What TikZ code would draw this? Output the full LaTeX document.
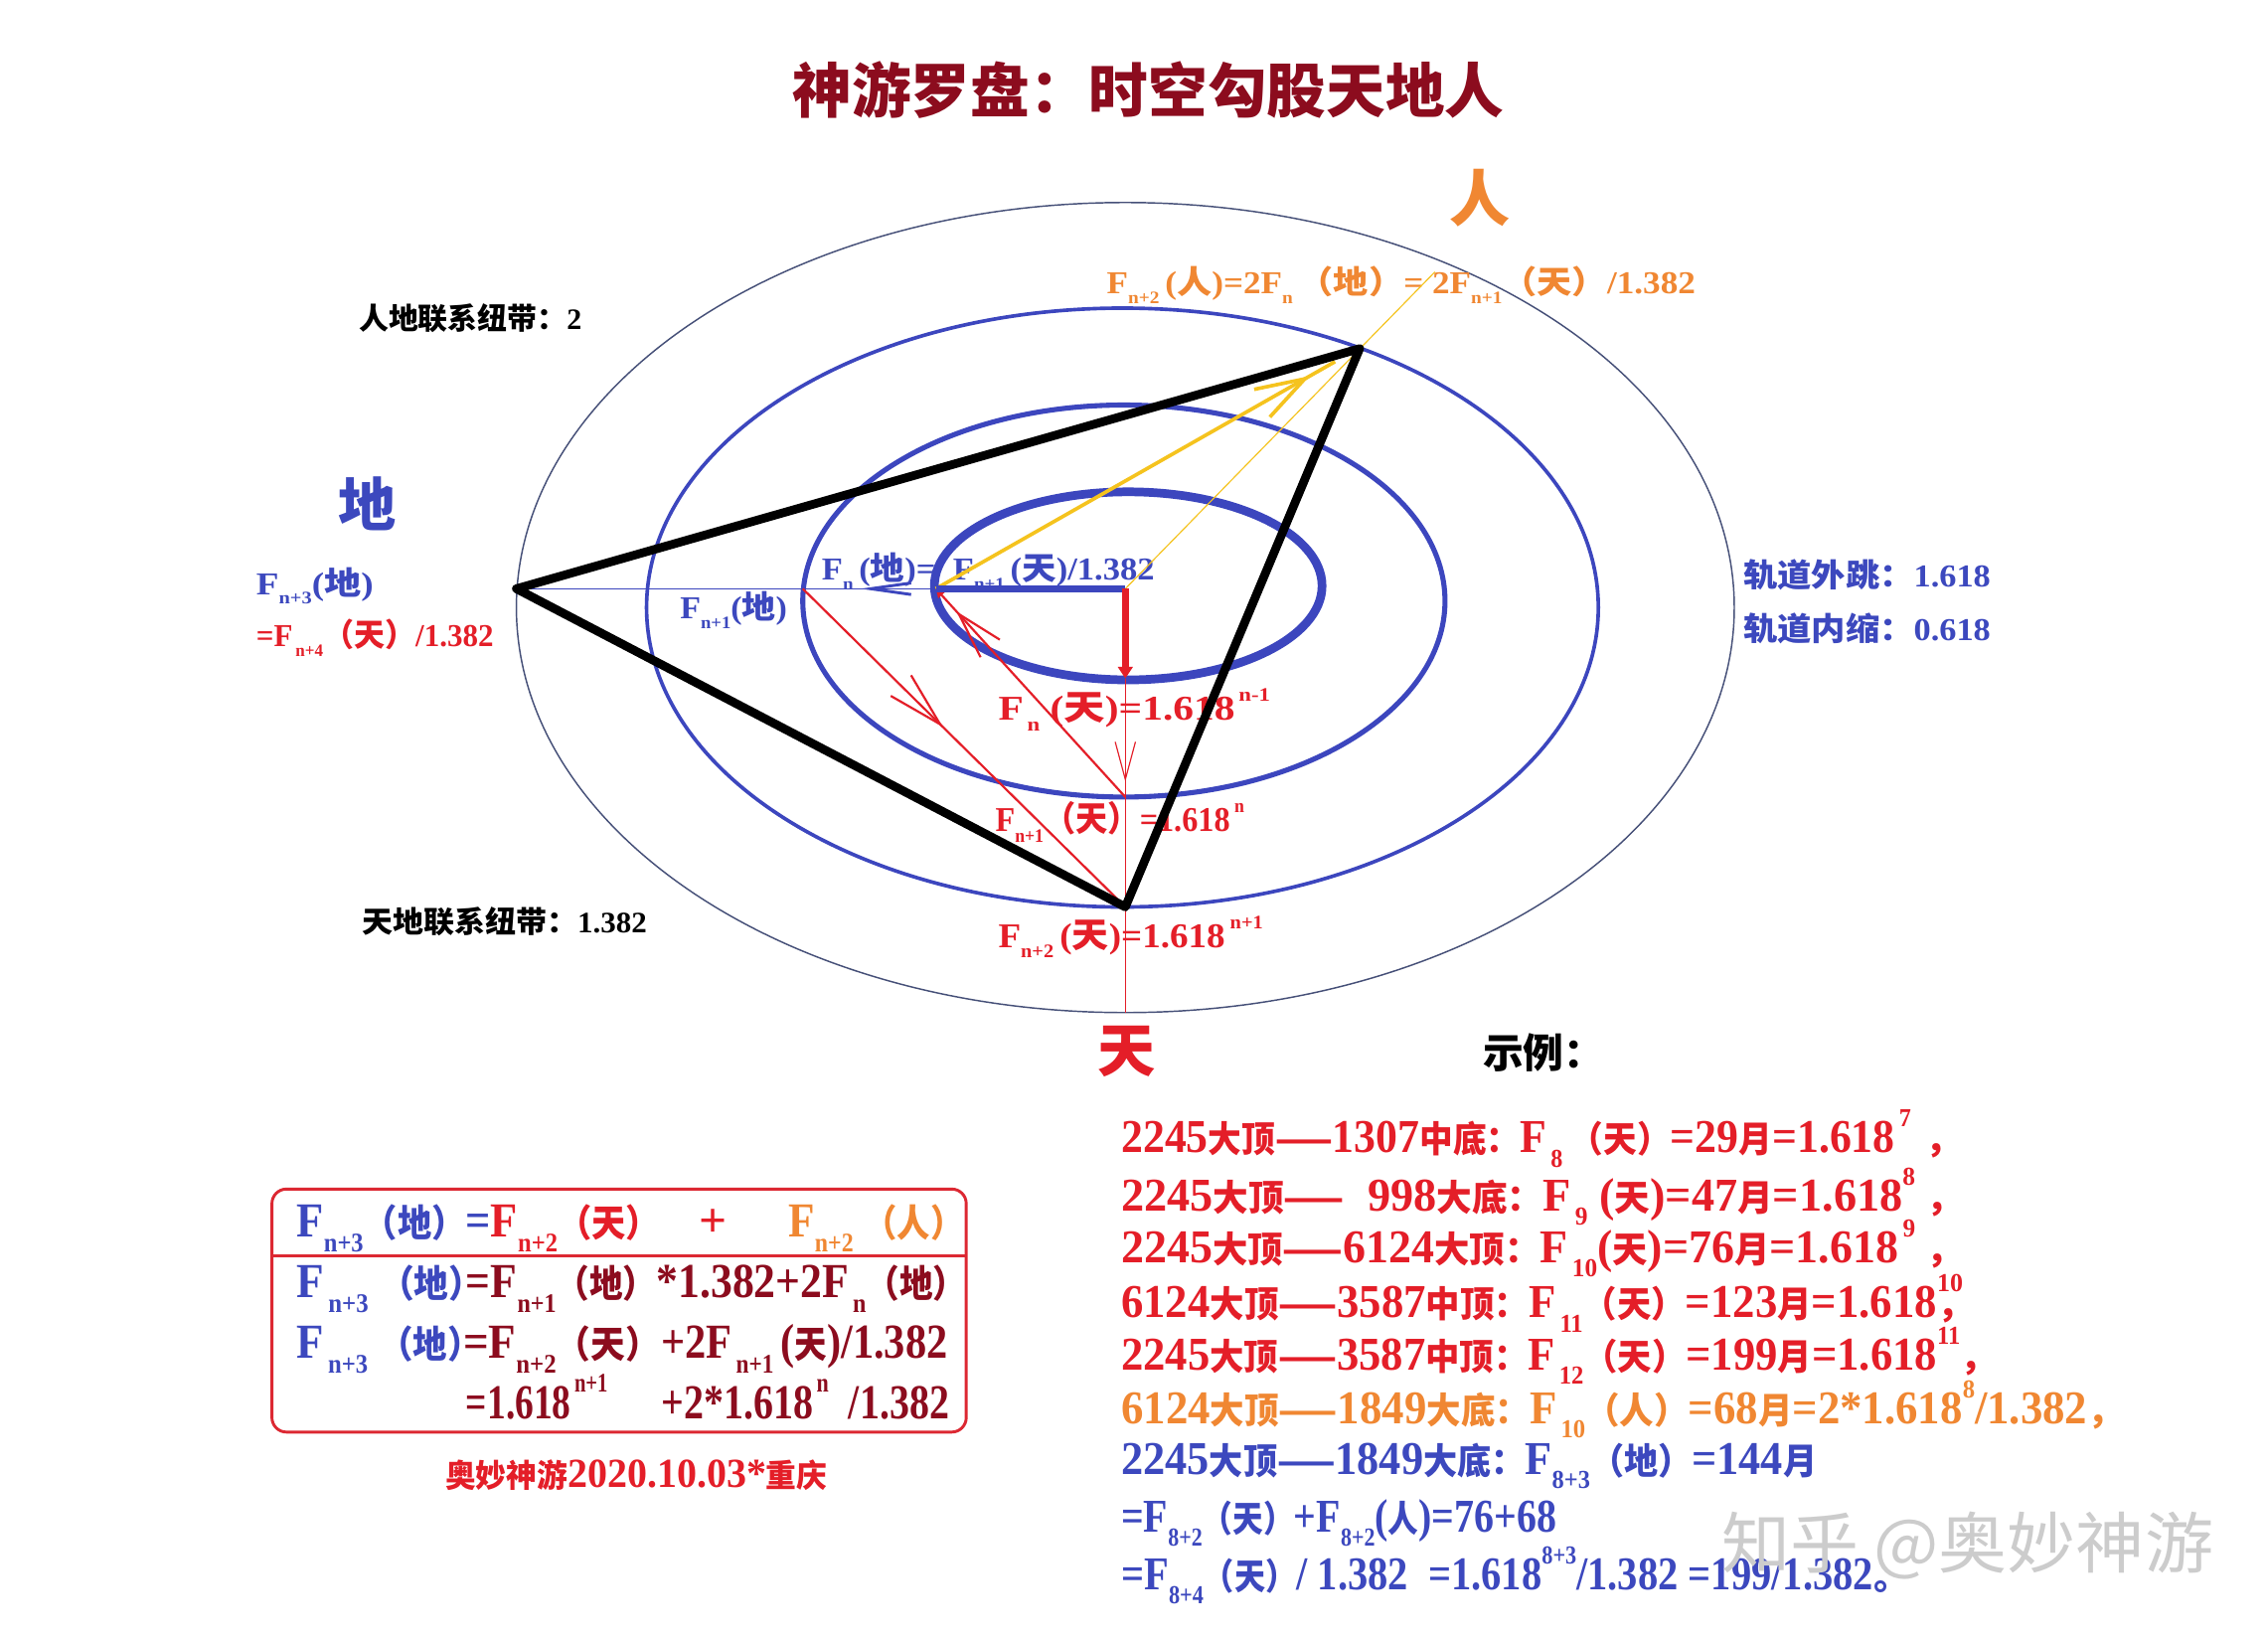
\documentclass[tikz,border=0pt]{standalone}
\usepackage{fontspec}
\usepackage{graphicx}
\setmainfont{Liberation Serif}
\newfontfamily\tall{Liberation Serif}[Scale=1.3]
\newfontfamily\cjk{Noto Sans CJK SC}
\usetikzlibrary{arrows.meta,decorations.markings}
\definecolor{tian}{RGB}{228,30,40}
\definecolor{di}{RGB}{60,72,190}
\definecolor{ren}{RGB}{240,135,50}
\definecolor{ttl}{RGB}{140,12,30}
\definecolor{dark}{RGB}{140,12,30}
\definecolor{orb}{RGB}{60,70,190}
\definecolor{outerc}{RGB}{70,80,120}
\definecolor{yel}{RGB}{245,195,30}
\definecolor{boxred}{RGB}{220,40,50}
\newcommand\z[1]{{\cjk #1}}
\newcommand\lo[1]{\raisebox{-0.3em}{\scalebox{0.55}{#1}}}
\newcommand\hi[1]{\raisebox{0.55em}{\scalebox{0.55}{#1}}}
\newcommand\fs[1]{\fontsize{#1}{#1}\selectfont\bfseries}
\newsavebox\fitbox
\newcommand\fit[2]{\sbox\fitbox{#2}\pgfmathsetmacro\fitsx{#1/\the\wd\fitbox}\scalebox{\fitsx}[1]{\usebox\fitbox}}
\begin{document}
\begin{tikzpicture}[x=1pt,y=-1pt,
  txt/.style={inner sep=0pt, anchor=base west},
  ex/.style={txt, font=\tall\fs{25}},
  bx/.style={txt, font=\tall\fs{26}},
  midarrow/.style 2 args={postaction={decorate}, decoration={markings, mark=at position #1 with {\arrow{#2}}}}]
\useasboundingbox[fill=white] (0,0) rectangle (1568,1132);

% orbits
\draw[outerc, line width=1] (778,420) ellipse [x radius=421, y radius=280];
\draw[orb, line width=2.5] (776,420) ellipse [x radius=329, y radius=207];
\draw[orb, line width=3.5] (777,415.5) ellipse [x radius=222, y radius=135.5];
\draw[orb, line width=6] (780,405) ellipse [x radius=134, y radius=65];

% texts
\node[font=\fs{41}, text=ttl, inner sep=0pt] (title) at (794,62) {\fit{492}{\z{神游罗盘：时空勾股天地人}}};
\node[font=\fs{42}, text=ren, inner sep=0pt] (renbig) at (1023,137) {\z{人}};
\node[font=\fs{40}, text=di, inner sep=0pt] (dibig) at (254,348) {\z{地}};
\node[font=\fs{40}, text=tian, inner sep=0pt] (tianbig) at (779,727) {\z{天}};

\node[txt, font=\fs{22}, text=ren] (renf) at (765,203) {\fit{407}{F\lo{n+2}\,(\z{人})=2F\lo{n}\,\z{（地）}= 2F\lo{n+1}\z{（天）}/1.382}};
\node[txt, font=\fs{20.5}] (rdlink) at (248,228) {\fit{154}{\z{人地联系纽带：}2}};
\node[txt, font=\fs{20.5}] (tdlink) at (250,645) {\fit{197}{\z{天地联系纽带：}1.382}};
\node[txt, font=\fs{22}, text=di] (dif) at (177,411) {\fit{81}{F\lo{n+3}(\z{地})}};
\node[txt, font=\fs{22}, text=tian] (dif2) at (177,447) {\fit{164}{=F\lo{\,n+4}\z{（天）}/1.382}};
\node[txt, font=\fs{22}, text=di] (dn1) at (470,428) {\fit{74}{F\lo{n+1}(\z{地})}};
\node[txt, font=\fs{22}, text=di] (dn) at (568,401) {\fit{230}{F\lo{n}\,(\z{地})=\ \ F\lo{n+1}\,(\z{天})/1.382}};
\node[txt, font=\fs{24}, text=tian] (tn) at (690,498) {\fit{188}{F\lo{\,n}\ (\z{天})=1.618\hi{\,n-1}}};
\node[txt, font=\fs{24}, text=tian] (tn1) at (688,575) {\fit{172}{F\lo{n+1}\z{（天）}=1.618\hi{\ n}}};
\node[txt, font=\fs{24}, text=tian] (tn2) at (690,655) {\fit{183}{F\lo{n+2}\,(\z{天})=1.618\hi{\ n+1}}};
\node[txt, font=\fs{22}, text=di] (out) at (1205,406) {\fit{171}{\z{轨道外跳：}1.618}};
\node[txt, font=\fs{22}, text=di] (inn) at (1205,443) {\fit{171}{\z{轨道内缩：}0.618}};
\node[txt, font=\fs{28}] (shili) at (1025,738) {\z{示例：}};

% examples
\node[ex, text=tian] (e1) at (775,797) {\fit{546}{2245\z{大顶——}1307\z{中底：}F\lo{\,8}\,\z{（天）}=29\z{月}=1.618\hi{\,7}}\hspace{10pt}\z{，}};
\node[ex, text=tian] (e2) at (775,837) {\fit{549}{2245\z{大顶——}\ \ 998\z{大底：}F\lo{\,9}\ (\z{天})=47\z{月}=1.618\hi{8}}\hspace{8pt}\z{，}};
\node[ex, text=tian] (e3) at (775,873) {\fit{549}{2245\z{大顶——}6124\z{大顶：}F\lo{\,10}(\z{天})=76\z{月}=1.618\hi{\,9}}\hspace{8pt}\z{，}};
\node[ex, text=tian] (e4) at (775,911) {\fit{564}{6124\z{大顶——}3587\z{中顶：}F\lo{\,11}\z{（天）}=123\z{月}=1.618}\rlap{\hi{10}}\z{，}};
\node[ex, text=tian] (e5) at (775,947) {\fit{580}{2245\z{大顶——}3587\z{中顶：}F\lo{\,12}\z{（天）}=199\z{月}=1.618\hi{11}}\z{，}};
\node[ex, text=ren] (e6) at (775,984) {\fit{668}{6124\z{大顶——}1849\z{大底：}F\lo{\,10}\z{（人）}=68\z{月}=2*1.618\hi{8}/1.382}\z{，}};
\node[ex, text=di] (e7) at (775,1019) {\fit{481}{2245\z{大顶——}1849\z{大底：}F\lo{8+3}\z{（地）}=144\z{月}}};
\node[ex, text=di] (e8) at (775,1059) {\fit{301}{=F\lo{8+2}\z{（天）}+F\lo{8+2}(\z{人})=76+68}};
\node[ex, text=di] (e9) at (775,1099) {\fit{520}{=F\lo{8+4}\z{（天）}/ 1.382\ \ =1.618\hi{8+3}/1.382 =199/1.382}\z{。}};

% box
\node[draw=boxred, line width=2pt, rounded corners=10pt, minimum width=480pt, minimum height=168pt, inner sep=0pt] (box) at (428,906) {};
\coordinate (dl) at (188,868);
\coordinate (dr) at (668,868);
\draw[boxred, line width=2pt] (dl) -- (dr);
\node[bx] (b1) at (205,855) {\makebox[278pt][l]{\fit{251}{\textcolor{di}{F\lo{n+3}\z{（地）}=}\textcolor{tian}{F\lo{n+2}\z{（天）}}}}\makebox[62pt][l]{\textcolor{tian}{+}}\textcolor{ren}{\fit{121}{F\lo{n+2}\ \z{（人）}}}};
\node[bx] (b2) at (205,897) {\makebox[117pt][l]{\textcolor{di}{\fit{129}{F\lo{\,n+3}\ \z{（地）}}}}\textcolor{dark}{\fit{346}{=F\lo{n+1}\z{（地）}*1.382+2F\lo{\,n}\z{（地）}}}};
\node[bx] (b3) at (205,939) {\makebox[115pt][l]{\textcolor{di}{\fit{128}{F\lo{\,n+3}\ \z{（地）}}}}\makebox[137pt][l]{\textcolor{dark}{\fit{136}{=F\lo{n+2}\z{（天）}}}}\textcolor{dark}{\fit{198}{+2F\lo{\,n+1}\,(\z{天})/1.382}}};
\node[bx, text=dark] (b4) at (322,981) {\makebox[135pt][l]{\fit{98}{=1.618\hi{\,n+1}}}\fit{199}{+2*1.618\hi{\,n}\ \ /1.382}};
\node[font=\tall\fs{22}, text=tian, inner sep=0pt] (sig) at (440,1020) {\fit{264}{\z{奥妙神游}2020.10.03*\z{重庆}}};

% watermark
\node[txt, font=\fontsize{46}{46}\selectfont, text=black!20] (wm) at (1190,1084) {\fit{340}{\z{知乎 @奥妙神游}}};

% points
\coordinate (D) at (357,407);
\coordinate (R) at (940,241);
\coordinate (T) at (778,627);
\coordinate (O) at (778,407);
\coordinate (A) at (647,407);
\coordinate (B) at (555,407);
\coordinate (C) at (778,551);
\coordinate (E) at (778,469);
\coordinate (Fb) at (778,700);
\coordinate (Y) at (923,250);
\coordinate (Ye) at (992,188);

% connectors
\draw[orb, line width=1, midarrow={0.18}{Straight Barb[length=28pt,width=8pt,line width=2pt]}] (A) -- (D);
\draw[yel, line width=0.8] (O) -- (Ye);
\draw[yel, line width=2.5, midarrow={0.937}{Straight Barb[length=34pt,width=22pt,line width=2.5pt]}] (A) -- (Y);
\draw[tian, line width=1.5, midarrow={0.435}{Straight Barb[length=38pt,width=20pt,line width=1.5pt]}] (B) -- (T);
\draw[tian, line width=1.5, midarrow={0.892}{Straight Barb[length=32pt,width=18pt,line width=1.5pt]}, -{Triangle[length=6pt,width=6pt]}] (C) -- (A);
\draw[tian, line width=0.8, midarrow={0.309}{Straight Barb[length=26pt,width=14pt,line width=0.8pt]}] (E) -- (Fb);
\draw[line width=6, line join=round] (D) -- (R) -- (T) -- cycle;
\draw[orb, line width=5] (A) -- (O);
\draw[tian, line width=5, -{Triangle[length=8pt,width=10pt]}] (O) -- (E);
\end{tikzpicture}
\end{document}
